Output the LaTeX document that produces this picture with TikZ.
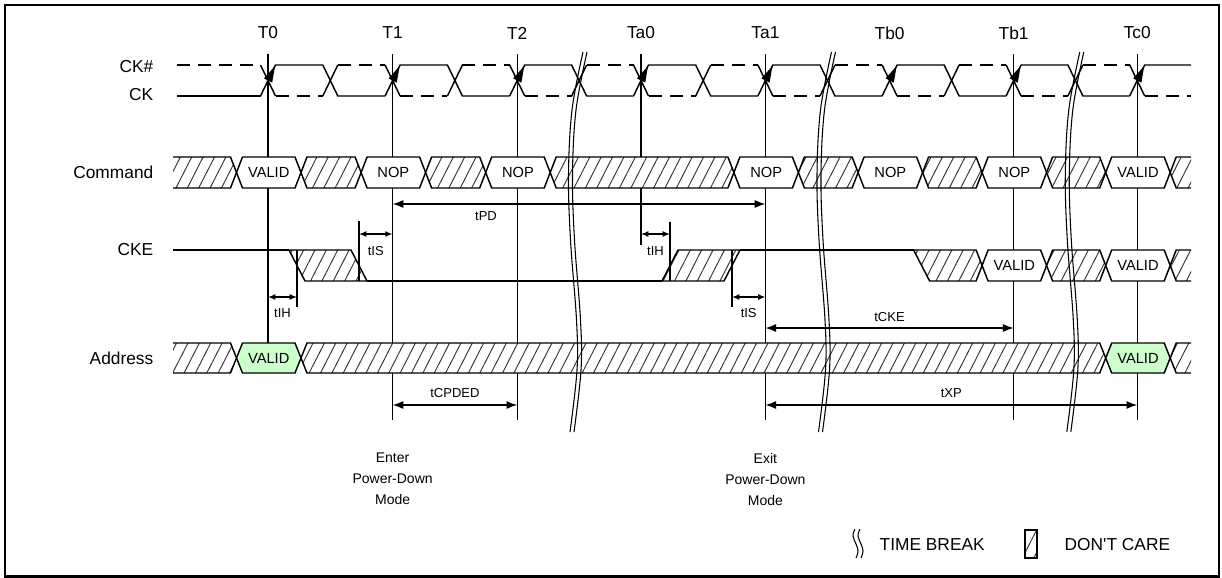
\documentclass[tikz,border=0pt]{standalone}
\usepackage{fontspec}
\setmainfont{Liberation Sans}
\usetikzlibrary{arrows.meta,patterns.meta}
\definecolor{validgreen}{RGB}{204,255,204}
\newcommand\hexseg[5]{%
  \pgfmathsetmacro\myhm{(#4+#5)/2}%
  \path[#1] (#2,\myhm) -- (#2+6,#4) -- (#3-6,#4) -- (#3,\myhm) -- (#3-6,#5) -- (#2+6,#5) -- cycle;}
\def\tzA{268}\def\tzB{392.6}\def\tzC{517.2}\def\tzD{641}
\def\tzE{765.4}\def\tzF{889.6}\def\tzG{1013.6}\def\tzH{1137.2}
\begin{document}
\begin{tikzpicture}[x=0.75pt,y=-0.75pt,
  wave/.style={line width=1.1pt,line join=miter},
  tline/.style={line width=1pt},
  ckdash/.style={dash pattern=on 9.75pt off 6pt},
  hatch/.style={preaction={fill=white},pattern={Lines[angle=63,distance=7.6pt,line width=0.7pt]},pattern color=black!80},
  hatchbox/.style={hatch,draw,wave},
  plainbox/.style={fill=white,draw,wave},
  greenbox/.style={fill=validgreen,draw,wave},
  biglabel/.style={font=\fontsize{13}{15}\selectfont},
  boxlabel/.style={font=\fontsize{11}{13}\selectfont},
  smalllabel/.style={font=\fontsize{9.75}{11}\selectfont},
  notelabel/.style={font=\fontsize{10.5}{15.75}\selectfont,align=center},
  dim/.style={line width=1pt,{Latex[length=8pt,width=6pt]}-{Latex[length=8pt,width=6pt]}},
  shortdim/.style={line width=1pt,{Latex[length=5.5pt,width=4.5pt]}-{Latex[length=5.5pt,width=4.5pt]}},
  brk/.style={line width=0.8pt},
]
\useasboundingbox (0,0) rectangle (1222,578);
\draw[line width=2pt] (5,5) rectangle (1219,576.5);

% time labels
\foreach \n/\x in {T0/\tzA,T1/\tzB,T2/\tzC,Ta0/\tzD,Ta1/\tzE,Tb0/\tzF,Tb1/\tzG,Tc0/\tzH}{
  \node[biglabel] (lab-\n) at (\x,33) {\n};
}
% vertical time lines
\foreach \n/\x/\yb in {T0/\tzA/343,T1/\tzB/420,T2/\tzC/420,Ta0/\tzD/245,Ta1/\tzE/420,Tb1/\tzG/420,Tc0/\tzH/420}{
  \coordinate (\n-top) at (\x,54);
  \coordinate (\n-bot) at (\x,\yb);
  \draw[tline] (\n-top) -- (\n-bot);
}

% row labels
\node[biglabel,anchor=east] (l-ckn) at (158,66.5) {CK\#};
\node[biglabel,anchor=east] (l-ck) at (158,95) {CK};
\node[biglabel,anchor=east] (l-cmd) at (158,172.5) {Command};
\node[biglabel,anchor=east] (l-cke) at (158,250) {CKE};
\node[biglabel,anchor=east] (l-addr) at (158,358) {Address};

% clock
\draw[wave] (177,96) -- (\tzA-7.5,96);
\draw[wave,ckdash] (177,65) -- (\tzA-7.5,65);
\foreach \a/\b in {\tzA/\tzB,\tzB/\tzC,\tzC/\tzD,\tzD/\tzE,\tzE/\tzF,\tzF/\tzG,\tzG/\tzH}{
  \pgfmathsetmacro\mym{(\a+\b)/2}
  \draw[wave] (\a-7.5,96) -- (\a+7.5,65) -- (\mym-7.5,65) -- (\mym+7.5,96) -- (\b-7.5,96);
  \draw[wave] (\a-7.5,65) -- (\a+7.5,96);
  \draw[wave] (\mym-7.5,96) -- (\mym+7.5,65);
  \draw[wave,ckdash] (\a+7.5,96) -- (\mym-7.5,96);
  \draw[wave,ckdash] (\mym+7.5,65) -- (\b-7.5,65);
}
\draw[wave] (\tzH-7.5,96) -- (\tzH+7.5,65) -- (1191,65);
\draw[wave] (\tzH-7.5,65) -- (\tzH+7.5,96);
\draw[wave,ckdash] (\tzH+7.5,96) -- (1191,96);
% rising-edge arrowheads
\foreach \a in {\tzA,\tzB,\tzC,\tzD,\tzE,\tzF,\tzG,\tzH}{
  \fill (\a+7,66) -- (\a+4.2,82.6) -- (\a-4,78.4) -- cycle;
}

% Command row
\path[hatch] (173,157) -- (\tzA-37.5,157) -- (\tzA-31.5,172.5) -- (\tzA-37.5,188) -- (173,188) -- cycle;
\draw[wave] (173,157) -- (\tzA-37.5,157) -- (\tzA-31.5,172.5) -- (\tzA-37.5,188) -- (173,188);
\hexseg{plainbox}{\tzA-31.5}{\tzA+33}{157}{188}
\hexseg{hatchbox}{\tzA+33}{\tzB-31.5}{157}{188}
\hexseg{plainbox}{\tzB-31.5}{\tzB+33}{157}{188}
\hexseg{hatchbox}{\tzB+33}{\tzC-31.5}{157}{188}
\hexseg{plainbox}{\tzC-31.5}{\tzC+33}{157}{188}
\hexseg{hatchbox}{\tzC+33}{\tzE-31.5}{157}{188}
\hexseg{plainbox}{\tzE-31.5}{\tzE+33}{157}{188}
\hexseg{hatchbox}{\tzE+33}{\tzF-31.5}{157}{188}
\hexseg{plainbox}{\tzF-31.5}{\tzF+33}{157}{188}
\hexseg{hatchbox}{\tzF+33}{\tzG-31.5}{157}{188}
\hexseg{plainbox}{\tzG-31.5}{\tzG+33}{157}{188}
\hexseg{hatchbox}{\tzG+33}{\tzH-31.5}{157}{188}
\hexseg{plainbox}{\tzH-31.5}{\tzH+33}{157}{188}
\path[hatch] (1191,157) -- (\tzH+39,157) -- (\tzH+33,172.5) -- (\tzH+39,188) -- (1191,188) -- cycle;
\draw[wave] (1191,157) -- (\tzH+39,157) -- (\tzH+33,172.5) -- (\tzH+39,188) -- (1191,188);
\node[boxlabel] (c-t0) at (\tzA+0.75,172.5) {VALID};
\node[boxlabel] (c-t1) at (\tzB+0.75,172.5) {NOP};
\node[boxlabel] (c-t2) at (\tzC+0.75,172.5) {NOP};
\node[boxlabel] (c-ta1) at (\tzE+0.75,172.5) {NOP};
\node[boxlabel] (c-tb0) at (\tzF+0.75,172.5) {NOP};
\node[boxlabel] (c-tb1) at (\tzG+0.75,172.5) {NOP};
\node[boxlabel] (c-tc0) at (\tzH+0.75,172.5) {VALID};

% CKE row
\draw[wave] (173,250) -- (\tzA+21,250);
\path[hatchbox] (\tzA+21,250) -- (\tzA+83,250) -- (\tzA+99,281) -- (\tzA+37,281) -- cycle;
\draw[wave] (\tzA+99,281) -- (\tzD+21,281);
\path[hatchbox] (\tzD+21,281) -- (\tzD+37,250) -- (\tzD+99,250) -- (\tzD+83,281) -- cycle;
\draw[wave] (\tzD+99,250) -- (\tzF+24,250);
\path[hatchbox] (\tzF+24,250) -- (\tzG-37.5,250) -- (\tzG-31.5,265.5) -- (\tzG-37.5,281) -- (\tzF+40,281) -- cycle;
\hexseg{plainbox}{\tzG-31.5}{\tzG+33}{250}{281}
\hexseg{hatchbox}{\tzG+33}{\tzH-31.5}{250}{281}
\hexseg{plainbox}{\tzH-31.5}{\tzH+33}{250}{281}
\path[hatch] (1191,250) -- (\tzH+39,250) -- (\tzH+33,265.5) -- (\tzH+39,281) -- (1191,281) -- cycle;
\draw[wave] (1191,250) -- (\tzH+39,250) -- (\tzH+33,265.5) -- (\tzH+39,281) -- (1191,281);
\node[boxlabel] (k-tb1) at (\tzG+0.75,265.5) {VALID};
\node[boxlabel] (k-tc0) at (\tzH+0.75,265.5) {VALID};

% Address row
\path[hatch] (173,343) -- (\tzA-37.5,343) -- (\tzA-31.5,358) -- (\tzA-37.5,373) -- (173,373) -- cycle;
\draw[wave] (173,343) -- (\tzA-37.5,343) -- (\tzA-31.5,358) -- (\tzA-37.5,373) -- (173,373);
\hexseg{greenbox}{\tzA-31.5}{\tzA+33}{343}{373}
\hexseg{hatchbox}{\tzA+33}{\tzH-31.5}{343}{373}
\hexseg{greenbox}{\tzH-31.5}{\tzH+33}{343}{373}
\path[hatch] (1191,343) -- (\tzH+39,343) -- (\tzH+33,358) -- (\tzH+39,373) -- (1191,373) -- cycle;
\draw[wave] (1191,343) -- (\tzH+39,343) -- (\tzH+33,358) -- (\tzH+39,373) -- (1191,373);
\node[boxlabel] (a-t0) at (\tzA+0.75,358) {VALID};
\node[boxlabel] (a-tc0) at (\tzH+0.75,358) {VALID};

% timing parameters
\coordinate (pd-a) at (\tzB,204); \coordinate (pd-b) at (\tzE,204);
\draw[dim] (pd-a) -- (pd-b);
\node[smalllabel] (tpd) at (486,216) {tPD};

\coordinate (is1-top) at (\tzA+91,221); \coordinate (is1-bot) at (\tzA+91,281);
\draw[tline] (is1-top) -- (is1-bot);
\coordinate (is1-a) at (\tzA+91,234); \coordinate (is1-b) at (\tzB,234);
\draw[shortdim] (is1-a) -- (is1-b);
\node[smalllabel] (tis1) at ({(\tzA+91+\tzB)/2},251) {tIS};

\coordinate (ih1-top) at (\tzA+29,250); \coordinate (ih1-bot) at (\tzA+29,306.5);
\draw[tline] (ih1-top) -- (ih1-bot);
\coordinate (ih1-a) at (\tzA,297); \coordinate (ih1-b) at (\tzA+29,297);
\draw[shortdim] (ih1-a) -- (ih1-b);
\node[smalllabel] (tih1) at (\tzA+14.5,313) {tIH};

\coordinate (ih2-top) at (\tzD+29,222); \coordinate (ih2-bot) at (\tzD+29,281);
\draw[tline] (ih2-top) -- (ih2-bot);
\coordinate (ih2-a) at (\tzD,234); \coordinate (ih2-b) at (\tzD+29,234);
\draw[shortdim] (ih2-a) -- (ih2-b);
\node[smalllabel] (tih2) at (\tzD+14.5,251) {tIH};

\coordinate (is2-top) at (\tzD+91,250); \coordinate (is2-bot) at (\tzD+91,306.5);
\draw[tline] (is2-top) -- (is2-bot);
\coordinate (is2-a) at (\tzD+91,297); \coordinate (is2-b) at (\tzE,297);
\draw[shortdim] (is2-a) -- (is2-b);
\node[smalllabel] (tis2) at ({(\tzD+91+\tzE)/2},313) {tIS};

\coordinate (cke-a) at (\tzE,328); \coordinate (cke-b) at (\tzG,328);
\draw[dim] (cke-a) -- (cke-b);
\node[smalllabel] (tcke) at ({(\tzE+\tzG)/2},317) {tCKE};

\coordinate (cp-a) at (\tzB,405); \coordinate (cp-b) at (\tzC,405);
\draw[dim] (cp-a) -- (cp-b);
\node[smalllabel] (tcpded) at ({(\tzB+\tzC)/2},393) {tCPDED};

\coordinate (xp-a) at (\tzE,405); \coordinate (xp-b) at (\tzH,405);
\draw[dim] (xp-a) -- (xp-b);
\node[smalllabel] (txp) at ({(\tzE+\tzH)/2},393) {tXP};

% notes
\node[notelabel] (enter) at (\tzB,479) {Enter\\Power-Down\\Mode};
\node[notelabel] (exit) at (\tzE,479) {Exit\\Power-Down\\Mode};

% time breaks
\foreach \bx in {578.5,827,1075.3}{
  \foreach \s in {-2,2}{
    \draw[brk,shift={(\s,0)}] plot[smooth,tension=0.6] coordinates {(\bx+6.5,52) (\bx-4.5,110) (\bx-8,175) (\bx-6,240) (\bx,320) (\bx+0.5,370) (\bx-6.5,432)};
  }
}

% legend
\foreach \s in {0,5}{
  \draw[brk,shift={(\s,0)}] plot[smooth,tension=0.7] coordinates {(855,529) (853,536) (856,544) (858,551) (856,558)};
}
\node[biglabel,anchor=west] (leg-tb) at (875,545) {TIME BREAK};
\path[hatch,draw,line width=0.8pt] (1025,530) rectangle (1037,558);
\node[biglabel,anchor=west] (leg-dc) at (1060,545) {DON\textquotesingle T CARE};
\end{tikzpicture}
\end{document}
